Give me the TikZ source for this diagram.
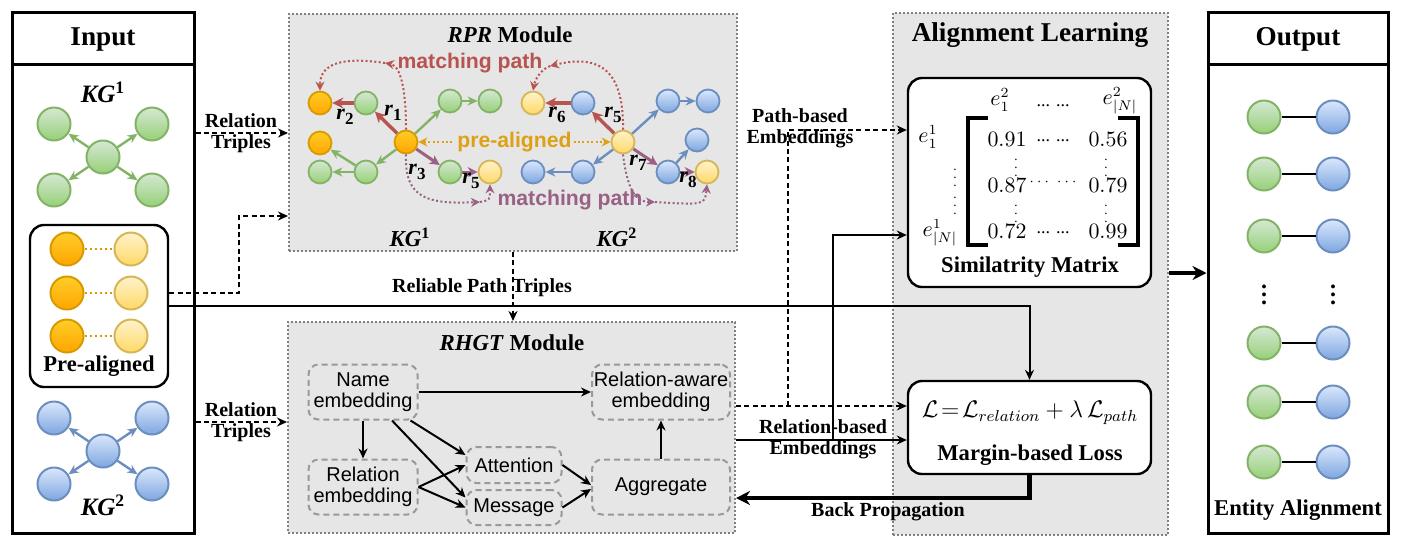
\documentclass[tikz,border=0pt]{standalone}
\usepackage{fontspec}
\setmainfont{Liberation Serif}
\newfontfamily\arialfont{Liberation Sans}
\usetikzlibrary{arrows.meta, positioning, fit}
\definecolor{gfill}{HTML}{D5E8D4}
\definecolor{gdark}{HTML}{97D077}
\definecolor{gline}{HTML}{82B366}
\definecolor{bfill}{HTML}{DAE8FC}
\definecolor{bdark}{HTML}{7EA6E0}
\definecolor{bline}{HTML}{6C8EBF}
\definecolor{ofill}{HTML}{FFCD28}
\definecolor{odark}{HTML}{FFA500}
\definecolor{oline}{HTML}{D79B00}
\definecolor{yfill}{HTML}{FFF2CC}
\definecolor{ydark}{HTML}{FFD966}
\definecolor{yline}{HTML}{D6B656}
\definecolor{redpath}{HTML}{B85450}
\definecolor{purplepath}{HTML}{996185}
\definecolor{preorange}{RGB}{222,160,20}
\definecolor{panelgray}{HTML}{E6E6E6}
\definecolor{dotgray}{HTML}{808080}
\definecolor{boxgray}{HTML}{999999}

\newcommand{\kglab}[1]{\textbf{\textit{KG}\textsuperscript{#1}}}
\newcommand{\rlab}[1]{\textbf{\textit{r}}\raisebox{-0.45ex}{\fontsize{8.5}{9}\selectfont\bfseries #1}}

\tikzset{
  ent/.style={circle, line width=1pt, minimum size=16.5pt, inner sep=0pt},
  sment/.style={minimum size=11.5pt, line width=0.9pt},
  gent/.style={ent, draw=gline, top color=gfill, bottom color=gdark},
  bent/.style={ent, draw=bline, top color=bfill, bottom color=bdark},
  oent/.style={ent, draw=oline, top color=ofill, bottom color=odark},
  yent/.style={ent, draw=yline, top color=yfill, bottom color=ydark},
  garrow/.style={gline, line width=1.2pt, -{Stealth[length=5pt, width=4.5pt]}},
  barrow/.style={bline, line width=1.2pt, -{Stealth[length=5pt, width=4.5pt]}},
  rarrow/.style={redpath, line width=1.7pt, -{Stealth[length=5.5pt, width=5.5pt]}},
  parrow/.style={purplepath, line width=1.5pt, -{Stealth[length=5pt, width=5pt]}},
  dotpath/.style={line width=1pt, dash pattern=on 1pt off 1.2pt, -{Stealth[length=4.5pt, width=4.5pt]}},
  panel/.style={fill=panelgray, draw=dotgray, line width=1pt, dash pattern=on 1pt off 1pt, inner sep=0pt},
  blackframe/.style={draw, line width=1.5pt, inner sep=0pt},
  card/.style={draw, fill=white, line width=1.2pt, rounded corners=7pt, inner sep=0pt},
  stagebox/.style={draw=boxgray, line width=1pt, dash pattern=on 3pt off 2pt, rounded corners=5pt, align=center, inner sep=0pt, font=\arialfont\fontsize{10}{10.8}\selectfont},
  flow/.style={line width=1pt, -{Stealth[length=5pt, width=4.5pt]}},
  dflow/.style={flow, dash pattern=on 2.5pt off 1.7pt},
  titletext/.style={font=\fontsize{13.6}{16}\selectfont\bfseries},
  subtext/.style={font=\fontsize{11.3}{13}\selectfont\bfseries},
  labtext/.style={font=\fontsize{10}{10.6}\selectfont\bfseries, align=center, inner sep=0pt},
  modtext/.style={font=\fontsize{11.4}{13}\selectfont\bfseries},
  rtext/.style={font=\fontsize{11}{12}\selectfont, inner sep=0pt},
  pathtext/.style={font=\arialfont\bfseries\fontsize{10.6}{12}\selectfont},
  mtext/.style={font=\fontsize{10.5}{12}\selectfont, inner sep=0pt},
  mdots/.style={font=\fontsize{9}{10}\selectfont, inner sep=0pt},
  vdot/.style={font=\fontsize{6.5}{7}\selectfont, inner sep=0pt}
}

\begin{document}
\begin{tikzpicture}[x=0.5pt, y=-0.5pt]
\useasboundingbox (0,0) rectangle (1402,548);

% Panels
\node[panel, fit={(289,14)(737,251)}] (rpr) {};
\node[panel, fit={(288,322)(735,533)}] (rhgt) {};
\node[panel, fit={(893,13)(1168,535)}] (align) {};

% Input
\node[blackframe, fit={(12,12)(194,533)}] (inbox) {};
\draw[line width=1.5pt] (inbox.west |- 0,64) -- (inbox.east |- 0,64);
\node[titletext] (intitle) at (103,39) {Input};
\node[font=\fontsize{12.5}{14}\selectfont] (kgone) at (103,92) {\kglab{1}};
\node[gent] (ga) at (103,157) {};
\foreach \n/\x/\y in {gb/54/124, gc/152/124, gd/54/190, ge/152/190}{
    \node[gent] (\n) at (\x,\y) {};
    \draw[garrow] (ga) -- (\n);
}
\node[card, fit={(30,225)(168,387)}] (prebox) {};
\foreach \i/\y in {1/249, 2/293, 3/336}{
    \node[oent] (po\i) at (67,\y) {};
    \node[yent] (py\i) at (131,\y) {};
    \draw[oline, line width=1.2pt, dash pattern=on 1pt off 1.5pt] (po\i) -- (py\i);
}
\node[subtext] (prelab) at (99,366) {Pre-aligned};
\node[bent] (ba) at (103,451) {};
\foreach \n/\x/\y in {bb/54/418, bc/152/418, bd/54/484, be/152/484}{
    \node[bent] (\n) at (\x,\y) {};
    \draw[barrow] (ba) -- (\n);
}
\node[font=\fontsize{12.5}{14}\selectfont] (kgtwo) at (103,505) {\kglab{2}};

% Output
\node[blackframe, fit={(1208,12)(1388,533)}] (outbox) {};
\draw[line width=1.5pt] (outbox.west |- 0,64) -- (outbox.east |- 0,64);
\node[titletext] (outtitle) at (1298,39) {Output};
\foreach \i/\y in {1/117, 2/174, 3/236, 4/343, 5/402, 6/462}{
    \node[gent] (og\i) at (1264,\y) {};
    \node[bent] (ob\i) at (1333,\y) {};
    \draw[line width=1.2pt] (og\i) -- (ob\i);
}
\node[font=\fontsize{12}{13}\selectfont\bfseries, inner sep=0pt] (odotg) at (1264,289) {$\vdots$};
\node[font=\fontsize{12}{13}\selectfont\bfseries, inner sep=0pt] (odotb) at (1333,289) {$\vdots$};
\node[subtext] (ealab) at (1298,510) {Entity Alignment};

% RPR module
\node[modtext] (rprtitle) at (510,35) {\textit{RPR} Module};
\foreach \n/\s/\x/\y in {pa/oent/320/103, pb/gent/366/103, pc/oent/320/143, pd/gent/320/172,
    pe/gent/366/172, cone/oent/406/142, pg/gent/450/101, ph/gent/490/101, pi/gent/450/172,
    pj/yent/490/172, qa/yent/533/103, qb/bent/583/103, ctwo/yent/623/142, qd/bent/533/172,
    qe/bent/583/172, qf/bent/668/101, qg/bent/708/101, qh/bent/697/140, qi/bent/668/172,
    qj/yent/707/172}{
    \node[\s, sment] (\n) at (\x,\y) {};
}
\foreach \a/\b in {cone/pg, pg/ph, cone/pe, pe/pd, pe/pc}{ \draw[garrow] (\a) -- (\b); }
\foreach \a/\b in {ctwo/qf, qf/qg, ctwo/qe, qe/qd, qi/qh}{ \draw[barrow] (\a) -- (\b); }
\foreach \a/\b in {pb/pa, cone/pb, qb/qa, ctwo/qb}{ \draw[rarrow] (\a) -- (\b); }
\foreach \a/\b in {cone/pi, pi/pj, ctwo/qi, qi/qj}{ \draw[parrow] (\a) -- (\b); }

\node[rtext] (rone) at (393,113) {\rlab{1}};
\node[rtext] (rtwo) at (345,117) {\rlab{2}};
\node[rtext] (rthree) at (417,172) {\rlab{3}};
\node[rtext] (rfivea) at (471,181) {\rlab{5}};
\node[rtext] (rsix) at (557,115) {\rlab{6}};
\node[rtext] (rfiveb) at (613,115) {\rlab{5}};
\node[rtext] (rseven) at (638,163) {\rlab{7}};
\node[rtext] (reight) at (688,180) {\rlab{8}};

% matching paths
\coordinate (mtl) at (385,63);
\draw[dotpath, redpath] (cone.north) .. controls (406,95) and (402,66) .. (mtl);
\draw[dotpath, redpath] (mtl) .. controls (345,57) and (320,62) .. (pa.north);
\node[pathtext, text=redpath] (mtop) at (470,63) {matching path};
\coordinate (mtr) at (550,66);
\draw[dotpath, redpath] (ctwo.north) .. controls (624,65) and (595,55) .. (mtr);
\draw[dotpath, redpath] (mtr) .. controls (540,70) and (535,80) .. (qa.north);

\coordinate (mbl) at (480,202);
\draw[dotpath, purplepath] (cone.south) .. controls (404,200) and (430,204) .. (mbl);
\draw[dotpath, purplepath] (mbl) .. controls (490,200) .. (pj.south);
\node[pathtext, text=purplepath] (mbot) at (570,200) {matching path};
\coordinate (mbr) at (655,202);
\draw[dotpath, purplepath] (ctwo.south) .. controls (628,195) and (638,202) .. (mbr);
\draw[dotpath, purplepath] (mbr) .. controls (705,205) .. (qj.south);

\draw[dotpath, preorange, {Stealth[length=4.5pt, width=4.5pt]}-{Stealth[length=4.5pt, width=4.5pt]}] (cone) -- (ctwo)
    node[midway, fill=panelgray, pathtext, text=preorange, inner sep=1pt] (prealab) {pre-aligned};

\node[modtext] (kgonerpr) at (410,237) {\kglab{1}};
\node[modtext] (kgtworpr) at (617,237) {\kglab{2}};

% RHGT module
\node[modtext] (rhgttitle) at (512,343) {\textit{RHGT} Module};
\node[stagebox, minimum width=54.5pt, minimum height=27.5pt] (name) at (363,392) {Name\\embedding};
\node[stagebox, minimum width=54.5pt, minimum height=27.5pt, below=19pt of name] (rele) {Relation\\embedding};
\node[stagebox, minimum width=47.5pt, minimum height=18pt] (attn) at (514,465) {Attention};
\node[stagebox, minimum width=47.5pt, minimum height=17.5pt, below=2.5pt of attn] (msg) {Message};
\node[stagebox, minimum width=69pt, minimum height=27.5pt] (rae) at (661,392) {Relation-aware\\embedding};
\node[stagebox, minimum width=69pt, minimum height=27.5pt, below=19pt of rae] (aggr) {Aggregate};

\draw[flow] (name) -- (rae);
\draw[flow] (name) -- (rele);
\draw[flow] ([xshift=14.5pt]name.south) -- ([yshift=5pt]msg.west);
\draw[flow] ([xshift=-4pt]name.south east) -- ([yshift=5pt]attn.west);
\draw[flow] (rele.east) -- (attn.west);
\draw[flow] (rele.east) -- (msg.west);
\draw[flow] (attn.east) -- ([yshift=1pt]aggr.west);
\draw[flow] (msg.east) -- ([yshift=-1pt]aggr.west);
\draw[flow] (aggr) -- (rae);

% Alignment learning
\node[titletext] (altitle) at (1030,35) {Alignment Learning};
\node[card, fit={(908,78)(1151,287)}] (simbox) {};
\node[card, fit={(908,381)(1151,474)}] (loss) {};

\node[mtext] (ecola) at (1000,100) {$e^2_1$};
\node[mdots] (ecoldots) at (1053,106) {... ...};
\node[mtext] (ecolb) at (1120,101) {$e^2_{|N|}$};
\node[mtext] (erowa) at (928,137) {$e^1_1$};
\node[mtext] (erowb) at (940,233) {$e^1_{|N|}$};
\node[vdot] (erowda) at (955,172) {$\vdots$};
\node[vdot] (erowdb) at (955,200) {$\vdots$};
\node[mtext] (ma) at (1007,139) {$0.91$};
\node[mdots] (mad) at (1053,141) {... ...};
\node[mtext] (mb) at (1108,139) {$0.56$};
\node[mtext] (mc) at (1007,185) {$0.87$};
\node[mdots, font=\fontsize{7}{8}\selectfont] (mcd) at (1053,182) {$\cdots$\hspace{4pt}$\cdots$};
\node[mtext] (md) at (1108,185) {$0.79$};
\node[mtext] (me) at (1007,231) {$0.72$};
\node[mdots] (med) at (1053,233) {... ...};
\node[mtext] (mf) at (1108,231) {$0.99$};
\foreach \x/\y in {1016/162, 1106/162, 1016/208, 1106/208}{
    \node[vdot] at (\x,\y) {$\vdots$};
}
\draw[line width=1.6pt] (988,118) -| (968,245) -- (988,245);
\draw[line width=1.6pt] (1118,118) -| (1138,245) -- (1118,245);
\node[subtext] (simlab) at (1030,267) {Similatrity Matrix};

\node[font=\fontsize{12}{14}\selectfont] (losseq) at (1030,413) {$\mathcal{L}\!=\!\mathcal{L}_{relation}+\lambda\,\mathcal{L}_{path}$};
\node[subtext] (losslab) at (1030,455) {Margin-based Loss};

% Input to modules
\node[labtext] (rtone) at (241,133) {Relation\\Triples};
\draw[dflow] (inbox.east |- rtone) -- (rpr.west |- rtone);
\node[labtext] (rttwo) at (241,422) {Relation\\Triples};
\draw[dflow] (inbox.east |- rttwo) -- (rhgt.west |- rttwo);
\coordinate (rprin) at (rpr.west |- 0,216);
\draw[dflow] ([yshift=6.5pt]prebox.east) -- ++(70,0) |- (rprin);
\draw[dflow] (rpr.south) -- (rpr.south |- rhgt.north);
\node[labtext] (rptlab) at (482,288) {Reliable Path Triples};
\draw[flow] (prebox.east) -| (loss.north);

% Embeddings to alignment
\coordinate (pathout) at (rhgt.east |- 0,406);
\coordinate (relout) at (rhgt.east |- 0,440);
\coordinate (bpin) at (rhgt.east |- 0,498);
\coordinate (simp) at (simbox.west |- 0,130);
\coordinate (simr) at (simbox.west |- 0,235);
\draw[dflow] (pathout) -- (loss.west |- pathout);
\draw[dflow] (pathout -| 788,0) |- (simp);
\draw[flow] (relout) -- (loss.west |- relout);
\draw[flow] (relout -| 833,0) |- (simr);
\draw[line width=2.2pt, -{Stealth[length=7pt, width=7pt]}] (loss.south) |- (bpin);
\node[labtext] (pblab) at (800,128) {Path-based\\Embeddings};
\node[labtext] (rblab) at (823,439) {Relation-based\\Embeddings};
\node[labtext] (bplab) at (888,512) {Back Propagation};

% Alignment to output
\coordinate (alout) at (align.east |- 0,273);
\draw[line width=2.2pt, -{Stealth[length=7pt, width=7pt]}] (alout) -- (outbox.west |- alout);

\end{tikzpicture}
\end{document}
